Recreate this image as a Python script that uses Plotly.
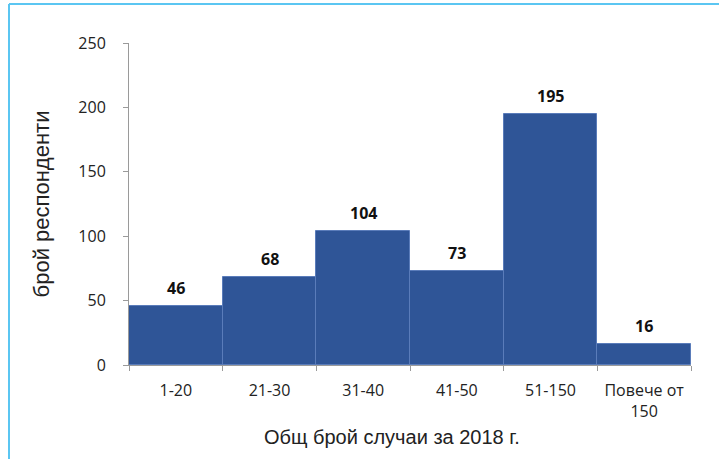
import plotly.graph_objects as go

# Брой респонденти по общ брой случаи за 2018 г.
categories = ["1-20", "21-30", "31-40", "41-50", "51-150", "Повече от<br>150"]
counts = [46, 68, 104, 73, 195, 16]
y_ticks = [0, 50, 100, 150, 200, 250]

W, H = 719, 459
L, R, T, B = 129, 28, 43, 94

fig = go.Figure()

fig.add_trace(go.Bar(
    x=categories,
    y=counts,
    marker=dict(color="#2F5597", line=dict(color="#5A7CBA", width=1)),
    showlegend=False,
))

# стойностите над колоните
for cat, v in zip(categories, counts):
    fig.add_annotation(x=cat, y=v, text=f"<b>{v}</b>", showarrow=False,
                       yanchor="bottom", yshift=5,
                       font=dict(family="Open Sans", size=16, color="#111111"))

pw = W - L - R
ph = H - T - B

# заглавие на оста x (малко вляво от центъра, както в оригинала)
fig.add_annotation(xref="paper", yref="paper", x=(392 - L) / pw, y=-(437 - (H - B)) / ph,
                   text="Общ брой случаи за 2018 г.", showarrow=False,
                   xanchor="center", yanchor="middle",
                   font=dict(family="Liberation Sans", size=20, color="#222222"))

# рамката в светлосиньо (отгоре и отляво)
x0 = (9 - L) / pw
y1 = (H - B - 4) / ph
fig.add_shape(type="line", xref="paper", yref="paper", x0=x0, x1=(W + 5 - L) / pw,
              y0=y1, y1=y1, line=dict(color="#5BC6F2", width=2))
fig.add_shape(type="line", xref="paper", yref="paper", x0=x0, x1=x0,
              y0=y1, y1=-(B + 5) / ph, line=dict(color="#5BC6F2", width=2))

fig.update_layout(
    width=W, height=H,
    margin=dict(l=L, r=R, t=T, b=B, autoexpand=False),
    paper_bgcolor="white",
    plot_bgcolor="white",
    bargap=0,
    xaxis=dict(
        type="category",
        showline=True, linecolor="#9A9A9A", linewidth=1,
        ticks="outside", tickson="boundaries", ticklen=5, tickcolor="#9A9A9A",
        ticklabelstandoff=11,
        tickfont=dict(family="Open Sans", size=16, color="#222222"),
    ),
    yaxis=dict(
        range=[0, 250], tickvals=y_ticks,
        showgrid=False, zeroline=False,
        showline=True, linecolor="#9A9A9A", linewidth=1,
        ticks="outside", ticklen=5, tickcolor="#9A9A9A",
        ticklabelstandoff=14,
        tickfont=dict(family="Open Sans", size=16, color="#222222"),
        title=dict(text="брой респонденти", standoff=22,
                   font=dict(family="Liberation Sans", size=22, color="#222222")),
    ),
)

fig.write_html("out.html", config={"displayModeBar": False},
               post_script="document.body.style.margin='0';")
